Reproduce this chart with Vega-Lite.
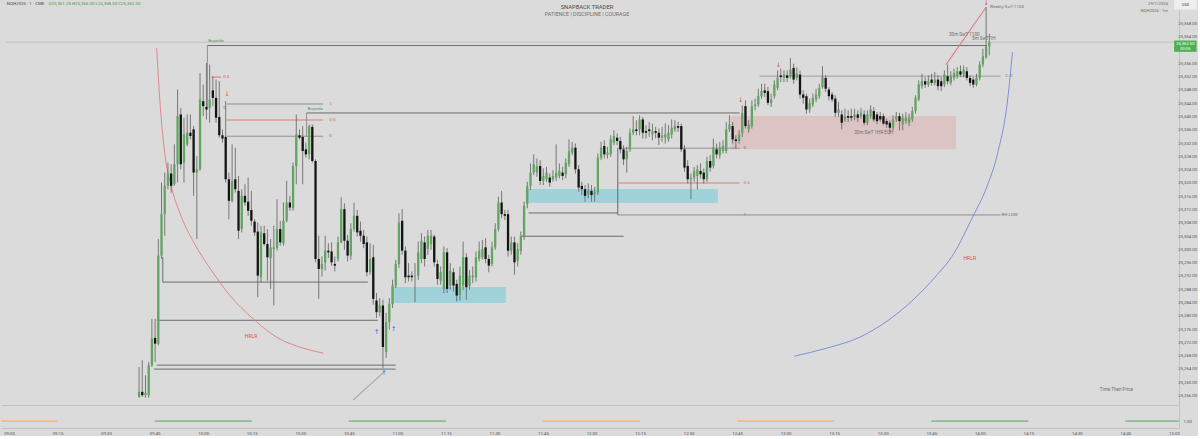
{
"$schema": "https://vega.github.io/schema/vega-lite/v6.json",
"background": "#dbdbdb",
"padding": 0,
"spacing": 0,
"config": {"view": {"stroke": null}, "font": "Roboto", "axis": {"grid": false, "labelOverlap": false}},
"datasets": {
"candles": [
{"t":39,"o":25255.75,"h":25264.75,"l":25255.5,"c":25257.25},
{"t":40,"o":25257.25,"h":25266.75,"l":25255.75,"c":25256.25},
{"t":41,"o":25256.25,"h":25262.25,"l":25255.5,"c":25257},
{"t":42,"o":25256.25,"h":25266.25,"l":25255.5,"c":25265.25},
{"t":43,"o":25265.25,"h":25279.25,"l":25264.75,"c":25273.25},
{"t":44,"o":25273.5,"h":25279.25,"l":25266.25,"c":25271.75},
{"t":45,"o":25271.75,"h":25303.25,"l":25271.25,"c":25298.25},
{"t":46,"o":25298.25,"h":25320.25,"l":25297.25,"c":25310.75},
{"t":47,"o":25310.75,"h":25323.25,"l":25304.25,"c":25319.25},
{"t":48,"o":25319.25,"h":25326.25,"l":25318.25,"c":25323},
{"t":49,"o":25323,"h":25325.75,"l":25317.25,"c":25319.25},
{"t":50,"o":25319.75,"h":25331.75,"l":25319.25,"c":25325.75},
{"t":51,"o":25325.75,"h":25348.25,"l":25320.25,"c":25340.25},
{"t":52,"o":25340.75,"h":25342.75,"l":25324.25,"c":25325.75},
{"t":53,"o":25326.25,"h":25339.75,"l":25320.25,"c":25334.75},
{"t":54,"o":25331.75,"h":25340.75,"l":25331.25,"c":25335.25},
{"t":55,"o":25335.25,"h":25340.75,"l":25333.25,"c":25334.25},
{"t":56,"o":25336.25,"h":25337.25,"l":25316.25,"c":25323.25},
{"t":57,"o":25323.25,"h":25328.25,"l":25303.25,"c":25324.25},
{"t":58,"o":25324.25,"h":25353.25,"l":25323.75,"c":25345.25},
{"t":59,"o":25344.75,"h":25349.75,"l":25340.25,"c":25343.25},
{"t":60,"o":25343,"h":25356.25,"l":25339.25,"c":25342.25},
{"t":61,"o":25342.75,"h":25355.75,"l":25338.25,"c":25345.25},
{"t":62,"o":25348,"h":25352.25,"l":25343.25,"c":25345.75},
{"t":63,"o":25345.75,"h":25351.25,"l":25338.25,"c":25339.75},
{"t":64,"o":25340,"h":25350.75,"l":25333.75,"c":25334.5},
{"t":65,"o":25334.5,"h":25336.25,"l":25332.25,"c":25333.5},
{"t":66,"o":25334,"h":25344.75,"l":25320.25,"c":25321.25},
{"t":67,"o":25321.25,"h":25323.25,"l":25309.25,"c":25314.75},
{"t":68,"o":25314.75,"h":25331.75,"l":25314.25,"c":25320.75},
{"t":69,"o":25321.25,"h":25330.75,"l":25317.25,"c":25318.25},
{"t":70,"o":25317.75,"h":25322.25,"l":25303.25,"c":25305.75},
{"t":71,"o":25306.25,"h":25318.25,"l":25305.25,"c":25316.25},
{"t":72,"o":25316.25,"h":25319.75,"l":25313.25,"c":25314.25},
{"t":73,"o":25314.5,"h":25321.75,"l":25310.25,"c":25311.75},
{"t":74,"o":25312,"h":25317.75,"l":25307.25,"c":25308.75},
{"t":75,"o":25308.5,"h":25309.25,"l":25304.25,"c":25305.25},
{"t":76,"o":25305.5,"h":25308.25,"l":25285.75,"c":25292.25},
{"t":77,"o":25291.75,"h":25307.25,"l":25290.25,"c":25305.25},
{"t":78,"o":25305,"h":25307.25,"l":25301.25,"c":25301.75},
{"t":79,"o":25301.75,"h":25306.25,"l":25290.75,"c":25297.75},
{"t":80,"o":25297.5,"h":25303.25,"l":25288.25,"c":25300.75},
{"t":81,"o":25300.25,"h":25307.25,"l":25283.25,"c":25300.75},
{"t":82,"o":25300.5,"h":25315.25,"l":25299.75,"c":25306.25},
{"t":83,"o":25306.25,"h":25308.75,"l":25301.25,"c":25302.25},
{"t":84,"o":25302,"h":25314.25,"l":25301.25,"c":25308.75},
{"t":85,"o":25308.75,"h":25320.75,"l":25308.25,"c":25314.25},
{"t":86,"o":25314.25,"h":25316.25,"l":25311.75,"c":25312.75},
{"t":87,"o":25312.5,"h":25326.25,"l":25311.75,"c":25325.25},
{"t":88,"o":25325.25,"h":25340.75,"l":25319.75,"c":25334.75},
{"t":89,"o":25334.5,"h":25336.25,"l":25333.25,"c":25333.75},
{"t":90,"o":25334,"h":25337.25,"l":25319.75,"c":25329.75},
{"t":91,"o":25330.25,"h":25332.25,"l":25327.75,"c":25328.75},
{"t":92,"o":25328.75,"h":25337.75,"l":25327.25,"c":25337.25},
{"t":93,"o":25337,"h":25337.75,"l":25326.25,"c":25326.75},
{"t":94,"o":25326.75,"h":25327.25,"l":25296.25,"c":25297.25},
{"t":95,"o":25297.25,"h":25304.25,"l":25285.25,"c":25294.25},
{"t":96,"o":25294.25,"h":25298,"l":25292,"c":25295.75},
{"t":97,"o":25296.25,"h":25304.25,"l":25293.75,"c":25299.75},
{"t":98,"o":25299.75,"h":25302,"l":25297.5,"c":25299.25},
{"t":99,"o":25299.5,"h":25302.25,"l":25295.25,"c":25296.25},
{"t":100,"o":25295.75,"h":25298,"l":25293.5,"c":25295.25},
{"t":101,"o":25297.25,"h":25304,"l":25296.5,"c":25302.25},
{"t":102,"o":25302.25,"h":25315.75,"l":25302,"c":25312.25},
{"t":103,"o":25312.25,"h":25314,"l":25300,"c":25302.75},
{"t":104,"o":25302.75,"h":25304.5,"l":25296.5,"c":25298.25},
{"t":105,"o":25298.25,"h":25308,"l":25297,"c":25306.25},
{"t":106,"o":25306.25,"h":25314.25,"l":25305.5,"c":25310.25},
{"t":107,"o":25310.25,"h":25312,"l":25304,"c":25305.25},
{"t":108,"o":25305.75,"h":25308.5,"l":25302.5,"c":25304.25},
{"t":109,"o":25304.25,"h":25306,"l":25300.5,"c":25301.75},
{"t":110,"o":25302.25,"h":25304,"l":25292,"c":25293.25},
{"t":111,"o":25293.25,"h":25302,"l":25292.5,"c":25297.25},
{"t":112,"o":25297.75,"h":25301.5,"l":25283.5,"c":25285.25},
{"t":113,"o":25284.75,"h":25287,"l":25279.5,"c":25281.25},
{"t":114,"o":25281.25,"h":25285.5,"l":25280,"c":25283.25},
{"t":115,"o":25283.25,"h":25285,"l":25264.25,"c":25270.75},
{"t":116,"o":25269.25,"h":25281,"l":25267.5,"c":25278.25},
{"t":117,"o":25278.25,"h":25285.5,"l":25276,"c":25283.75},
{"t":118,"o":25283.75,"h":25291,"l":25282.5,"c":25289.25},
{"t":119,"o":25289.25,"h":25297,"l":25288.5,"c":25295.75},
{"t":120,"o":25295.75,"h":25311,"l":25294.5,"c":25308.25},
{"t":121,"o":25308.75,"h":25312.25,"l":25298.5,"c":25299.75},
{"t":122,"o":25299.75,"h":25301,"l":25290,"c":25291.75},
{"t":123,"o":25292.25,"h":25296,"l":25290.5,"c":25291.75},
{"t":124,"o":25292.25,"h":25293.5,"l":25290.5,"c":25291.75},
{"t":125,"o":25292,"h":25296,"l":25284.25,"c":25292.25},
{"t":126,"o":25292.25,"h":25302.5,"l":25291,"c":25299.25},
{"t":127,"o":25297.25,"h":25305,"l":25296,"c":25302.75},
{"t":128,"o":25302.25,"h":25304,"l":25295,"c":25297.25},
{"t":129,"o":25300.25,"h":25306,"l":25298.5,"c":25304.25},
{"t":130,"o":25301.75,"h":25306,"l":25300,"c":25304.25},
{"t":131,"o":25304,"h":25304.5,"l":25295,"c":25296.25},
{"t":132,"o":25295.75,"h":25297,"l":25289.5,"c":25291.25},
{"t":133,"o":25290.75,"h":25295,"l":25289.5,"c":25293.25},
{"t":134,"o":25288.25,"h":25301,"l":25287,"c":25299.25},
{"t":135,"o":25299.25,"h":25300.5,"l":25287,"c":25288.25},
{"t":136,"o":25289.25,"h":25296,"l":25288,"c":25293.75},
{"t":137,"o":25293.25,"h":25294.5,"l":25287.5,"c":25289.25},
{"t":138,"o":25289.75,"h":25291,"l":25284.5,"c":25286.25},
{"t":139,"o":25286.5,"h":25295,"l":25284.75,"c":25292.25},
{"t":140,"o":25289.25,"h":25302.5,"l":25288,"c":25297.75},
{"t":141,"o":25297.75,"h":25299,"l":25285,"c":25288.75},
{"t":142,"o":25289.25,"h":25294,"l":25288,"c":25292.25},
{"t":143,"o":25291.75,"h":25295,"l":25290,"c":25292.25},
{"t":144,"o":25291.75,"h":25299.5,"l":25290.5,"c":25297.75},
{"t":145,"o":25297.25,"h":25302.5,"l":25296.5,"c":25299.75},
{"t":146,"o":25297.75,"h":25303,"l":25297,"c":25300.25},
{"t":147,"o":25300.75,"h":25303.5,"l":25296,"c":25297.25},
{"t":148,"o":25297.25,"h":25298.5,"l":25293.25,"c":25295.25},
{"t":149,"o":25295.75,"h":25302.5,"l":25295,"c":25300.75},
{"t":150,"o":25300.75,"h":25308,"l":25300,"c":25306.25},
{"t":151,"o":25306.25,"h":25316,"l":25305.5,"c":25314.25},
{"t":152,"o":25314.25,"h":25317.75,"l":25309.5,"c":25310.75},
{"t":153,"o":25310.75,"h":25312,"l":25309,"c":25310.25},
{"t":154,"o":25310.75,"h":25312,"l":25298,"c":25299.75},
{"t":155,"o":25299.75,"h":25304,"l":25298.5,"c":25302.25},
{"t":156,"o":25302.25,"h":25304,"l":25292.5,"c":25296.25},
{"t":157,"o":25296.75,"h":25302,"l":25295,"c":25300.25},
{"t":158,"o":25299.75,"h":25305.5,"l":25298.5,"c":25304.25},
{"t":159,"o":25304.25,"h":25314.5,"l":25303,"c":25313.25},
{"t":160,"o":25313.75,"h":25320.5,"l":25312.5,"c":25319.25},
{"t":161,"o":25319.25,"h":25326,"l":25318,"c":25323.25},
{"t":162,"o":25323.25,"h":25328.75,"l":25322.5,"c":25325.75},
{"t":163,"o":25323.25,"h":25327.5,"l":25322,"c":25325.25},
{"t":164,"o":25325.25,"h":25327,"l":25319.5,"c":25320.75},
{"t":165,"o":25320.75,"h":25324.5,"l":25319.5,"c":25322.25},
{"t":166,"o":25321.25,"h":25325,"l":25320.5,"c":25323.25},
{"t":167,"o":25321.75,"h":25323,"l":25319,"c":25320.25},
{"t":168,"o":25321.25,"h":25324,"l":25320.5,"c":25322.25},
{"t":169,"o":25321.75,"h":25331.75,"l":25320.75,"c":25323.25},
{"t":170,"o":25322.25,"h":25326,"l":25321.5,"c":25323.75},
{"t":171,"o":25323.25,"h":25325,"l":25321,"c":25322.25},
{"t":172,"o":25322.75,"h":25327.5,"l":25321.5,"c":25326.25},
{"t":173,"o":25325.75,"h":25333.25,"l":25325,"c":25329.75},
{"t":174,"o":25329.25,"h":25332.5,"l":25328.5,"c":25330.75},
{"t":175,"o":25330.75,"h":25332,"l":25323,"c":25324.25},
{"t":176,"o":25324.25,"h":25325.5,"l":25317.5,"c":25318.75},
{"t":177,"o":25319.25,"h":25320.5,"l":25316.5,"c":25318.25},
{"t":178,"o":25318.25,"h":25319.5,"l":25314.5,"c":25316.25},
{"t":179,"o":25316.75,"h":25320,"l":25315.5,"c":25317.75},
{"t":180,"o":25317.75,"h":25319.5,"l":25314.5,"c":25316.5},
{"t":181,"o":25316.75,"h":25319,"l":25314.5,"c":25317.25},
{"t":182,"o":25317.25,"h":25329,"l":25316.5,"c":25327.75},
{"t":183,"o":25327.75,"h":25332.5,"l":25327,"c":25330.75},
{"t":184,"o":25331.25,"h":25333,"l":25327.5,"c":25328.75},
{"t":185,"o":25328.5,"h":25331,"l":25327.5,"c":25329.25},
{"t":186,"o":25328.75,"h":25334.5,"l":25328,"c":25333.25},
{"t":187,"o":25332.25,"h":25336,"l":25331.5,"c":25334.25},
{"t":188,"o":25333.75,"h":25335,"l":25331.5,"c":25332.75},
{"t":189,"o":25332.75,"h":25334,"l":25329,"c":25330.25},
{"t":190,"o":25330.25,"h":25331.5,"l":25325.5,"c":25327.25},
{"t":191,"o":25327.25,"h":25331,"l":25323.25,"c":25329.75},
{"t":192,"o":25330.25,"h":25336.5,"l":25329.5,"c":25335.25},
{"t":193,"o":25335.25,"h":25340.25,"l":25334.5,"c":25336.25},
{"t":194,"o":25336.25,"h":25339,"l":25334.5,"c":25335.75},
{"t":195,"o":25336.25,"h":25340.5,"l":25334.5,"c":25339.25},
{"t":196,"o":25339.25,"h":25340,"l":25333.5,"c":25335.25},
{"t":197,"o":25335.75,"h":25337.5,"l":25333.5,"c":25335.25},
{"t":198,"o":25336.25,"h":25338.5,"l":25334,"c":25335.75},
{"t":199,"o":25334.75,"h":25338,"l":25333,"c":25335.75},
{"t":200,"o":25335.75,"h":25337,"l":25333.5,"c":25335.25},
{"t":201,"o":25335.25,"h":25336.5,"l":25331.5,"c":25333.75},
{"t":202,"o":25333.75,"h":25337,"l":25332.5,"c":25334.5},
{"t":203,"o":25333.75,"h":25338,"l":25332,"c":25334.75},
{"t":204,"o":25333.25,"h":25337.5,"l":25332.5,"c":25335.25},
{"t":205,"o":25334.75,"h":25339.25,"l":25333.5,"c":25336.75},
{"t":206,"o":25336.25,"h":25339,"l":25335.5,"c":25337.25},
{"t":207,"o":25337.25,"h":25338.5,"l":25335.5,"c":25336.75},
{"t":208,"o":25337.25,"h":25338,"l":25329.5,"c":25330.25},
{"t":209,"o":25330.25,"h":25331.5,"l":25323.5,"c":25324.75},
{"t":210,"o":25325.25,"h":25327,"l":25320,"c":25321.25},
{"t":211,"o":25321.25,"h":25323,"l":25315.25,"c":25321.75},
{"t":212,"o":25321.75,"h":25325,"l":25320.5,"c":25323.75},
{"t":213,"o":25322.25,"h":25325.5,"l":25318.25,"c":25324.25},
{"t":214,"o":25323.75,"h":25326,"l":25321.5,"c":25322.75},
{"t":215,"o":25323.25,"h":25324.5,"l":25320,"c":25321.25},
{"t":216,"o":25321.25,"h":25328,"l":25320.5,"c":25326.75},
{"t":217,"o":25326.75,"h":25328.5,"l":25323.5,"c":25324.75},
{"t":218,"o":25325.25,"h":25333.5,"l":25324.5,"c":25330.75},
{"t":219,"o":25330.25,"h":25332,"l":25327.5,"c":25328.75},
{"t":220,"o":25328.5,"h":25332.5,"l":25327.5,"c":25330.75},
{"t":221,"o":25329.75,"h":25333,"l":25329,"c":25331.25},
{"t":222,"o":25329.75,"h":25338.5,"l":25329,"c":25336.25},
{"t":223,"o":25336.25,"h":25340.5,"l":25335.5,"c":25337.75},
{"t":224,"o":25337.25,"h":25338.5,"l":25332,"c":25333.25},
{"t":225,"o":25333.25,"h":25334.5,"l":25330.5,"c":25332.75},
{"t":226,"o":25332.75,"h":25336,"l":25332,"c":25334.75},
{"t":227,"o":25335.25,"h":25343.5,"l":25334,"c":25341.25},
{"t":228,"o":25343.25,"h":25345,"l":25336.5,"c":25337.25},
{"t":229,"o":25336.25,"h":25339,"l":25335.25,"c":25337.75},
{"t":230,"o":25337.25,"h":25345,"l":25336.5,"c":25343.25},
{"t":231,"o":25343.25,"h":25345.5,"l":25342,"c":25343.75},
{"t":232,"o":25343.75,"h":25348.5,"l":25343,"c":25346.25},
{"t":233,"o":25346.25,"h":25350,"l":25345.5,"c":25347.75},
{"t":234,"o":25348,"h":25350,"l":25346,"c":25347.25},
{"t":235,"o":25347.75,"h":25349,"l":25343.5,"c":25344.25},
{"t":236,"o":25344.25,"h":25347,"l":25343,"c":25345.25},
{"t":237,"o":25346.25,"h":25351,"l":25345.5,"c":25349.75},
{"t":238,"o":25348.75,"h":25354,"l":25348,"c":25351.75},
{"t":239,"o":25352.5,"h":25354.5,"l":25350.5,"c":25352},
{"t":240,"o":25351.75,"h":25354,"l":25350.5,"c":25352.75},
{"t":241,"o":25352.5,"h":25354,"l":25350.5,"c":25351.75},
{"t":242,"o":25352.25,"h":25357.75,"l":25351.5,"c":25354.25},
{"t":243,"o":25354.75,"h":25356,"l":25350,"c":25351.25},
{"t":244,"o":25351.75,"h":25355,"l":25351,"c":25353},
{"t":245,"o":25352.75,"h":25354,"l":25345.5,"c":25346.75},
{"t":246,"o":25346.75,"h":25348,"l":25344,"c":25345.75},
{"t":247,"o":25346.25,"h":25347,"l":25341,"c":25342.25},
{"t":248,"o":25342.25,"h":25345.5,"l":25341.25,"c":25344.25},
{"t":249,"o":25343.75,"h":25347,"l":25343,"c":25345.75},
{"t":250,"o":25345.25,"h":25348.5,"l":25344.5,"c":25346.75},
{"t":251,"o":25346.25,"h":25350,"l":25345.5,"c":25348.75},
{"t":252,"o":25349,"h":25355.25,"l":25348.5,"c":25352},
{"t":253,"o":25351.75,"h":25352.5,"l":25347.5,"c":25348.5},
{"t":254,"o":25348.25,"h":25349,"l":25345,"c":25346.25},
{"t":255,"o":25346.75,"h":25347.5,"l":25344.5,"c":25345.25},
{"t":256,"o":25345.5,"h":25346.5,"l":25340,"c":25341.25},
{"t":257,"o":25341.25,"h":25344.5,"l":25340,"c":25342.25},
{"t":258,"o":25340.75,"h":25342,"l":25336.25,"c":25338.25},
{"t":259,"o":25339.25,"h":25342.5,"l":25338.5,"c":25340.25},
{"t":260,"o":25340.25,"h":25342,"l":25338.5,"c":25339.75},
{"t":261,"o":25340.25,"h":25342.5,"l":25338.75,"c":25339.75},
{"t":262,"o":25340,"h":25342.5,"l":25339,"c":25340.75},
{"t":263,"o":25340.75,"h":25342,"l":25338.5,"c":25339.75},
{"t":264,"o":25340.25,"h":25342.75,"l":25339.5,"c":25341.25},
{"t":265,"o":25340.75,"h":25342,"l":25337.5,"c":25338.25},
{"t":266,"o":25338.25,"h":25342,"l":25337.5,"c":25340.75},
{"t":267,"o":25340.25,"h":25343.5,"l":25339.5,"c":25342.25},
{"t":268,"o":25341.75,"h":25343,"l":25338.5,"c":25339.25},
{"t":269,"o":25340.75,"h":25341.5,"l":25337.75,"c":25338.75},
{"t":270,"o":25340.25,"h":25341.5,"l":25338.5,"c":25339.25},
{"t":271,"o":25340.25,"h":25341,"l":25337.5,"c":25338},
{"t":272,"o":25338.75,"h":25339.5,"l":25336.75,"c":25337.75},
{"t":273,"o":25338.25,"h":25339,"l":25335.25,"c":25336.75},
{"t":274,"o":25336.75,"h":25340.5,"l":25336,"c":25339.25},
{"t":275,"o":25339.25,"h":25341.5,"l":25338.5,"c":25340.25},
{"t":276,"o":25340.25,"h":25341.25,"l":25336,"c":25338.75},
{"t":277,"o":25337.75,"h":25341,"l":25336,"c":25339.75},
{"t":278,"o":25338.75,"h":25341.5,"l":25338,"c":25339.75},
{"t":279,"o":25338.25,"h":25341,"l":25337.25,"c":25339.75},
{"t":280,"o":25339.25,"h":25343,"l":25338.5,"c":25341.75},
{"t":281,"o":25341.75,"h":25346.5,"l":25341,"c":25345.75},
{"t":282,"o":25345.25,"h":25351,"l":25344.75,"c":25349.75},
{"t":283,"o":25349.25,"h":25353,"l":25348.5,"c":25350.75},
{"t":284,"o":25350.75,"h":25352,"l":25348.75,"c":25349.75},
{"t":285,"o":25349.75,"h":25352.5,"l":25349,"c":25350.75},
{"t":286,"o":25351.25,"h":25353,"l":25349.5,"c":25350.25},
{"t":287,"o":25350.25,"h":25353.5,"l":25349.5,"c":25351.25},
{"t":288,"o":25351.25,"h":25352.5,"l":25348,"c":25349.25},
{"t":289,"o":25350.75,"h":25352,"l":25347.75,"c":25349.25},
{"t":290,"o":25349.75,"h":25354,"l":25349,"c":25352.75},
{"t":291,"o":25352.25,"h":25355.75,"l":25349.75,"c":25350.75},
{"t":292,"o":25350.25,"h":25353.75,"l":25349.5,"c":25352.25},
{"t":293,"o":25351.75,"h":25354.5,"l":25351,"c":25353.25},
{"t":294,"o":25352.25,"h":25355,"l":25351.5,"c":25353.75},
{"t":295,"o":25353.75,"h":25355.5,"l":25352,"c":25352.75},
{"t":296,"o":25352.75,"h":25355.5,"l":25352,"c":25354.25},
{"t":297,"o":25353.75,"h":25355,"l":25351,"c":25351.75},
{"t":298,"o":25351.75,"h":25352.5,"l":25349.25,"c":25350.25},
{"t":299,"o":25351.25,"h":25352,"l":25348.75,"c":25349.75},
{"t":300,"o":25349.75,"h":25353,"l":25349.25,"c":25351.75},
{"t":301,"o":25351.75,"h":25356.75,"l":25351,"c":25355.75},
{"t":302,"o":25355.75,"h":25360.5,"l":25355,"c":25358.25},
{"t":303,"o":25358,"h":25373,"l":25357.5,"c":25361.25},
{"t":304,"o":25361.25,"h":25365,"l":25358.5,"c":25362.5}
],
"lines": [
{"t1":-2.472,"t2":361.56,"p1":25362.5,"p2":25362.5,"k":"price"},
{"t1":60.3,"t2":303.2,"p1":25361.5,"p2":25361.5,"k":"dark"},
{"t1":60.3,"t2":60.3,"p1":25361.5,"p2":25342.75,"k":"gray"},
{"t1":61.5,"t2":64.6,"p1":25352.0,"p2":25352.0,"k":"red"},
{"t1":66.4,"t2":96.4,"p1":25343.9,"p2":25343.9,"k":"gray"},
{"t1":66.4,"t2":96.4,"p1":25339.1,"p2":25339.1,"k":"red"},
{"t1":66.4,"t2":96.4,"p1":25334.2,"p2":25334.2,"k":"gray"},
{"t1":91.2,"t2":226.2,"p1":25341.2,"p2":25341.2,"k":"dark"},
{"t1":91.2,"t2":91.2,"p1":25341.2,"p2":25334.2,"k":"gray"},
{"t1":46.4,"t2":110.3,"p1":25290.3,"p2":25290.3,"k":"dark"},
{"t1":46.4,"t2":46.4,"p1":25297.8,"p2":25290.3,"k":"dark"},
{"t1":44.5,"t2":113.4,"p1":25278.8,"p2":25278.8,"k":"dark"},
{"t1":44.5,"t2":119,"p1":25265.3,"p2":25265.3,"k":"dark"},
{"t1":43.6,"t2":119,"p1":25264.1,"p2":25264.1,"k":"dark"},
{"t1":105.7,"t2":115.3,"p1":25254.8,"p2":25263.2,"k":"light"},
{"t1":158.2,"t2":190,"p1":25304.1,"p2":25304.1,"k":"dark"},
{"t1":160.4,"t2":188.2,"p1":25311.1,"p2":25311.1,"k":"dark"},
{"t1":188.2,"t2":188.2,"p1":25330.6,"p2":25310.5,"k":"dark"},
{"t1":188.2,"t2":307.5,"p1":25310.5,"p2":25310.5,"k":"gray"},
{"t1":188.2,"t2":226.2,"p1":25330.6,"p2":25330.6,"k":"gray"},
{"t1":188.2,"t2":226.2,"p1":25320.1,"p2":25320.1,"k":"red"},
{"t1":232.4,"t2":307.5,"p1":25352.3,"p2":25352.3,"k":"light"},
{"t1":290.5,"t2":303,"p1":25355.75,"p2":25373,"k":"red"}
],
"boxes": [
{"t1":117.7,"t2":153.3,"p1":25288.8,"p2":25284.0,"k":"cyan"},
{"t1":159.5,"t2":219.4,"p1":25318.3,"p2":25314.1,"k":"cyan"},
{"t1":223.4,"t2":293.6,"p1":25340.3,"p2":25330.3,"k":"pink"},
{"t1":361.6,"t2":368.6,"p1":25363.0,"p2":25359.6,"k":"tag"},
{"t1":361.6,"t2":368.6,"p1":25375.2,"p2":25372.3,"k":"usd"}
],
"arcs": [
{"a":"left","i":0,"t":44.5,"p":25360.7},
{"a":"left","i":1,"t":45.4,"p":25346.0},
{"a":"left","i":2,"t":47.0,"p":25329.1},
{"a":"left","i":3,"t":49.1,"p":25318.9},
{"a":"left","i":4,"t":52.2,"p":25309.9},
{"a":"left","i":5,"t":56.2,"p":25302.0},
{"a":"left","i":6,"t":61.5,"p":25293.9},
{"a":"left","i":7,"t":67.7,"p":25285.8},
{"a":"left","i":8,"t":73.9,"p":25279.8},
{"a":"left","i":9,"t":81.9,"p":25273.7},
{"a":"left","i":10,"t":90.2,"p":25270.4},
{"a":"left","i":11,"t":96.4,"p":25268.9},
{"a":"right","i":0,"t":243.2,"p":25268.0},
{"a":"right","i":1,"t":253.3,"p":25270.4},
{"a":"right","i":2,"t":263.6,"p":25273.7},
{"a":"right","i":3,"t":272.5,"p":25278.8},
{"a":"right","i":4,"t":281.2,"p":25285.8},
{"a":"right","i":5,"t":287.1,"p":25291.8},
{"a":"right","i":6,"t":293.0,"p":25299.0},
{"a":"right","i":7,"t":298.8,"p":25309.9},
{"a":"right","i":8,"t":303.2,"p":25318.9},
{"a":"right","i":9,"t":306.6,"p":25329.1},
{"a":"right","i":10,"t":309.7,"p":25345.1},
{"a":"right","i":11,"t":311.2,"p":25359.5}
],
"arrows": [
{"t":66.4,"p":25346.8,"s":"↓","k":"red"},
{"t":226.5,"p":25345.0,"s":"↓","k":"red"},
{"t":238.3,"p":25355.5,"s":"↓","k":"red"},
{"t":303,"p":25374.2,"s":"↓","k":"red"},
{"t":113.1,"p":25275.2,"s":"↑","k":"blue"},
{"t":118.4,"p":25276.1,"s":"↑","k":"blue"},
{"t":115.3,"p":25263.0,"s":"↑","k":"blue"}
],
"txtL": [
{"t":-2.2,"p":25374.0,"s":"NQH2026 · 1 · CME","k":"hdr"},
{"t":10.8,"p":25374.0,"s":"O25,361.25  H25,365.00  L25,358.50  C25,362.50","k":"ohlc"},
{"t":60.6,"p":25362.9,"s":"Buyside","k":"green"},
{"t":91.5,"p":25342.3,"s":"Buyside","k":"green"},
{"t":65.2,"p":25352.0,"s":"0.5","k":"red"},
{"t":98.3,"p":25343.9,"s":"1","k":"gray"},
{"t":98.3,"p":25339.1,"s":"0.5","k":"red"},
{"t":98.3,"p":25334.2,"s":"0","k":"gray"},
{"t":65.2,"p":25342.7,"s":"0","k":"gray"},
{"t":227.4,"p":25330.6,"s":"0","k":"gray"},
{"t":227.4,"p":25320.1,"s":"0.5","k":"red"},
{"t":227.4,"p":25310.5,"s":"1","k":"gray"},
{"t":307.8,"p":25310.5,"s":"RH LOW","k":"gray"},
{"t":309.0,"p":25352.3,"s":"C.O","k":"co"},
{"t":304.1,"p":25373.1,"s":"Weekly SwT 1100","k":"gray"}
],
"txtC": [
{"t":178.6,"p":25373.1,"s":"SNAPBACK TRADER","k":"title"},
{"t":178.6,"p":25371.0,"s":"PATIENCE  |  DISCIPLINE  |  COURAGE","k":"sub"},
{"t":73.9,"p":25274.0,"s":"HRLR","k":"hrlr"},
{"t":297.9,"p":25297.5,"s":"HRLR","k":"hrlr"},
{"t":343.6,"p":25257.8,"s":"Time Then Price","k":"gray"},
{"t":268.0,"p":25335.2,"s":"30m SwT 1HR EQH","k":"gray"},
{"t":296.2,"p":25364.7,"s":"30m SwT 1100","k":"gray"},
{"t":302.3,"p":25363.5,"s":"5m SwT 1H","k":"gray"},
{"t":365.1,"p":25362.0,"s":"25,362.50","k":"tag"},
{"t":365.1,"p":25360.5,"s":"00:06","k":"tag"},
{"t":365.1,"p":25373.8,"s":"USD","k":"usd"}
],
"txtR": [
{"t":359.7,"p":25374.0,"s":"29/1/2026","k":"date"},
{"t":359.7,"p":25371.9,"s":"NQH2026 · 1m","k":"date"}
],
"ylab": [
{"v":25256},{"v":25260},{"v":25264},{"v":25268},{"v":25272},{"v":25276},{"v":25280},{"v":25284},{"v":25288},{"v":25292},{"v":25296},{"v":25300},{"v":25304},{"v":25308},{"v":25312},{"v":25316},{"v":25320},{"v":25324},{"v":25328},{"v":25332},{"v":25336},{"v":25340},{"v":25344},{"v":25348},{"v":25352},{"v":25356},{"v":25364},{"v":25368}
],
"seg": [
{"t1":-2.472,"t2":15,"v":1,"k":"orange"},
{"t1":45,"t2":75,"v":1,"k":"green"},
{"t1":105,"t2":135,"v":1,"k":"green"},
{"t1":165,"t2":195,"v":1,"k":"orange"},
{"t1":225,"t2":255,"v":1,"k":"orange"},
{"t1":285,"t2":315,"v":1,"k":"green"},
{"t1":345,"t2":361.56,"v":1,"k":"green"}
]
},
"resolve": {"scale": {"color": "independent", "size": "independent", "strokeWidth": "independent"}},
"vconcat": [
{
"width": 1178,
"height": 405,
"resolve": {"scale": {"color": "independent", "size": "independent", "strokeWidth": "independent"}},
"layer": [
{
"data": {"name": "boxes"},
"mark": {"type": "rect"},
"encoding": {
"x": {"field": "t1", "type": "quantitative", "title": null, "scale": {"domain": [-2.472, 361.56], "nice": false, "zero": false},
"axis": {"labels": false, "ticks": false, "domain": true, "domainColor": "#c2c2c2", "grid": false, "title": null}},
"x2": {"field": "t2"},
"y": {"field": "p1", "type": "quantitative", "title": null, "scale": {"domain": [25253.3, 25375.2], "nice": false, "zero": false},
"axis": {"orient": "right", "labels": false, "ticks": false, "domain": true, "domainColor": "#c2c2c2", "grid": false, "title": null}},
"y2": {"field": "p2"},
"color": {"field": "k", "type": "nominal", "legend": null, "scale": {"domain": ["cyan", "pink", "tag", "usd"], "range": ["#a0d2da", "#dcc3c4", "#4caf50", "#eeeeee"]}}
}
},
{
"data": {"name": "lines"},
"mark": {"type": "rule"},
"encoding": {
"x": {"field": "t1", "type": "quantitative", "title": null, "scale": {"domain": [-2.472, 361.56], "nice": false, "zero": false}},
"x2": {"field": "t2"},
"y": {"field": "p1", "type": "quantitative", "title": null, "scale": {"domain": [25253.3, 25375.2], "nice": false, "zero": false}},
"y2": {"field": "p2"},
"color": {"field": "k", "type": "nominal", "legend": null, "scale": {"domain": ["price", "dark", "gray", "red", "light"], "range": ["#bdbdbd", "#5c5c5c", "#8c8c8c", "#e07a7a", "#a9a9a9"]}},
"strokeWidth": {"field": "k", "type": "nominal", "legend": null, "scale": {"domain": ["price", "dark", "gray", "red", "light"], "range": [0.8, 1.1, 0.7, 0.8, 0.7]}}
}
},
{
"data": {"name": "arcs"},
"mark": {"type": "line", "interpolate": "monotone", "strokeWidth": 0.85},
"encoding": {
"x": {"field": "t", "type": "quantitative", "title": null, "scale": {"domain": [-2.472, 361.56], "nice": false, "zero": false}},
"y": {"field": "p", "type": "quantitative", "title": null, "scale": {"domain": [25253.3, 25375.2], "nice": false, "zero": false}},
"order": {"field": "i", "type": "quantitative"},
"color": {"field": "a", "type": "nominal", "legend": null, "scale": {"domain": ["left", "right"], "range": ["#e07a7a", "#6f80d8"]}}
}
},
{
"data": {"name": "candles"},
"mark": {"type": "rule", "strokeWidth": 0.8, "color": "#5e5e5e"},
"encoding": {
"x": {"field": "t", "type": "quantitative", "title": null, "scale": {"domain": [-2.472, 361.56], "nice": false, "zero": false}},
"y": {"field": "l", "type": "quantitative", "title": null, "scale": {"domain": [25253.3, 25375.2], "nice": false, "zero": false}},
"y2": {"field": "h"}
}
},
{
"data": {"name": "candles"},
"mark": {"type": "bar", "size": 2.3, "minBandSize": 0.8},
"encoding": {
"x": {"field": "t", "type": "quantitative", "title": null, "scale": {"domain": [-2.472, 361.56], "nice": false, "zero": false}},
"y": {"field": "o", "type": "quantitative", "title": null, "scale": {"domain": [25253.3, 25375.2], "nice": false, "zero": false}},
"y2": {"field": "c"},
"color": {"condition": {"test": "datum.c >= datum.o", "value": "#62a462"}, "value": "#141414"}
}
},
{
"data": {"name": "arrows"},
"mark": {"type": "text", "font": "DejaVu Sans", "fontSize": 6.5, "baseline": "middle", "align": "center"},
"encoding": {
"x": {"field": "t", "type": "quantitative", "title": null, "scale": {"domain": [-2.472, 361.56], "nice": false, "zero": false}},
"y": {"field": "p", "type": "quantitative", "title": null, "scale": {"domain": [25253.3, 25375.2], "nice": false, "zero": false}},
"text": {"field": "s"},
"color": {"field": "k", "type": "nominal", "legend": null, "scale": {"domain": ["red", "blue"], "range": ["#e04848", "#3f6fe0"]}}
}
},
{
"data": {"name": "txtL"},
"mark": {"type": "text", "align": "left", "baseline": "middle"},
"encoding": {
"x": {"field": "t", "type": "quantitative", "title": null, "scale": {"domain": [-2.472, 361.56], "nice": false, "zero": false}},
"y": {"field": "p", "type": "quantitative", "title": null, "scale": {"domain": [25253.3, 25375.2], "nice": false, "zero": false}},
"text": {"field": "s"},
"color": {"field": "k", "type": "nominal", "legend": null, "scale": {"domain": ["hdr", "ohlc", "green", "red", "gray", "co"], "range": ["#4a4a4a", "#3f9a48", "#4f9a50", "#e05555", "#6e6e6e", "#777777"]}},
"size": {"field": "k", "type": "nominal", "legend": null, "scale": {"domain": ["hdr", "ohlc", "green", "red", "gray", "co"], "range": [4.4, 4.4, 4, 4.3, 4, 5.2]}}
}
},
{
"data": {"name": "txtC"},
"mark": {"type": "text", "align": "center", "baseline": "middle"},
"encoding": {
"x": {"field": "t", "type": "quantitative", "title": null, "scale": {"domain": [-2.472, 361.56], "nice": false, "zero": false}},
"y": {"field": "p", "type": "quantitative", "title": null, "scale": {"domain": [25253.3, 25375.2], "nice": false, "zero": false}},
"text": {"field": "s"},
"color": {"field": "k", "type": "nominal", "legend": null, "scale": {"domain": ["title", "sub", "hrlr", "gray", "tag", "usd"], "range": ["#4a4a4a", "#707070", "#e05050", "#6e6e6e", "#ffffff", "#333333"]}},
"size": {"field": "k", "type": "nominal", "legend": null, "scale": {"domain": ["title", "sub", "hrlr", "gray", "tag", "usd"], "range": [5.8, 3.8, 6.8, 4, 4, 4.2]}}
}
},
{
"data": {"name": "txtR"},
"mark": {"type": "text", "align": "right", "baseline": "middle", "fontSize": 4.2, "color": "#666666"},
"encoding": {
"x": {"field": "t", "type": "quantitative", "title": null, "scale": {"domain": [-2.472, 361.56], "nice": false, "zero": false}},
"y": {"field": "p", "type": "quantitative", "title": null, "scale": {"domain": [25253.3, 25375.2], "nice": false, "zero": false}},
"text": {"field": "s"}
}
},
{
"data": {"name": "ylab"},
"mark": {"type": "text", "align": "left", "baseline": "middle", "fontSize": 4.3, "color": "#555555"},
"encoding": {
"x": {"datum": 362.9, "type": "quantitative", "title": null, "scale": {"domain": [-2.472, 361.56], "nice": false, "zero": false}},
"y": {"field": "v", "type": "quantitative", "title": null, "scale": {"domain": [25253.3, 25375.2], "nice": false, "zero": false}},
"text": {"field": "v", "type": "quantitative", "format": ",.2f"}
}
}
]
},
{
"width": 1178,
"height": 23,
"data": {"name": "seg"},
"mark": {"type": "rule", "strokeWidth": 1.8},
"encoding": {
"x": {"field": "t1", "type": "quantitative", "title": null, "scale": {"domain": [-2.472, 361.56], "nice": false, "zero": false},
"axis": {"values": [0,15,30,45,60,75,90,105,120,135,150,165,180,195,210,225,240,255,270,285,300,315,330,345,360],
"labelExpr": "(floor(datum.value/60)+9 < 10 ? '0' : '') + (floor(datum.value/60)+9) + ':' + (datum.value%60 < 10 ? '0' : '') + (datum.value%60)",
"labelFontSize": 4.3, "labelColor": "#555555", "ticks": false, "labelPadding": 3, "labelOverlap": false, "domain": true, "domainColor": "#c2c2c2", "grid": false, "title": null, "labelFlush": false}},
"x2": {"field": "t2"},
"y": {"field": "v", "type": "quantitative", "title": null, "scale": {"domain": [0.7, 1.7], "nice": false, "zero": false},
"axis": {"orient": "right", "values": [1], "format": ".2f", "labelFontSize": 4.3, "labelColor": "#555555", "ticks": false, "labelPadding": 4, "domain": true, "domainColor": "#c2c2c2", "grid": false, "title": null}},
"color": {"field": "k", "type": "nominal", "legend": null, "scale": {"domain": ["orange", "green"], "range": ["#f2ba84", "#8fbd8f"]}}
}
}
]
}
